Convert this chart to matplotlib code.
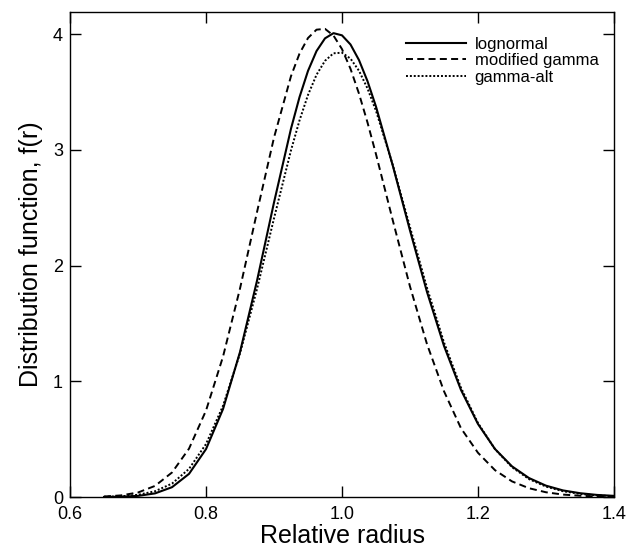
import matplotlib
matplotlib.use("Agg")
import matplotlib.pyplot as plt

plt.rcParams['font.family'] = ['Liberation Sans', 'DejaVu Sans']

radius = [0.650, 0.675, 0.700, 0.725, 0.750, 0.775, 0.800, 0.825, 0.850, 0.875,
          0.900, 0.925, 0.9375, 0.950, 0.9625, 0.975, 0.9875, 1.000, 1.0125, 1.025,
          1.0375, 1.050, 1.075, 1.100, 1.125, 1.150, 1.175, 1.200, 1.225, 1.250,
          1.275, 1.300, 1.325, 1.350, 1.375, 1.400]

lognormal = [0.0006, 0.0026, 0.0099, 0.0313, 0.0849, 0.200, 0.414, 0.760, 1.253, 1.869,
             2.545, 3.183, 3.455, 3.682, 3.853, 3.963, 4.008, 3.989, 3.910, 3.775,
             3.593, 3.373, 2.857, 2.303, 1.772, 1.306, 0.925, 0.631, 0.415, 0.265,
             0.164, 0.098, 0.057, 0.033, 0.018, 0.010]

modified_gamma = [0.004, 0.014, 0.039, 0.096, 0.212, 0.418, 0.747, 1.213, 1.802, 2.462,
                  3.106, 3.637, 3.831, 3.966, 4.038, 4.045, 3.987, 3.870, 3.700, 3.485,
                  3.236, 2.962, 2.383, 1.819, 1.321, 0.914, 0.594, 0.382, 0.232, 0.135,
                  0.076, 0.041, 0.021, 0.011, 0.005, 0.0025]

gamma_alt = [0.002, 0.0065, 0.019, 0.050, 0.116, 0.243, 0.458, 0.788, 1.241, 1.798,
             2.408, 2.996, 3.254, 3.474, 3.648, 3.769, 3.834, 3.839, 3.788, 3.683,
             3.530, 3.337, 2.863, 2.332, 1.808, 1.336, 0.944, 0.639, 0.414, 0.258,
             0.155, 0.090, 0.050, 0.027, 0.014, 0.007]

labels = ['lognormal', 'modified gamma', 'gamma-alt']
x_ticks = [0.6, 0.8, 1.0, 1.2, 1.4]
x_tick_labels = ['0.6', '0.8', '1.0', '1.2', '1.4']
y_ticks = [0, 1, 2, 3, 4]

fig = plt.figure(figsize=(6.31, 5.49), dpi=100)
ax = fig.add_axes([0.111, 0.0947, 0.862, 0.8833])

ax.plot(radius, lognormal, color='black', lw=1.5, ls='-', label=labels[0])
ax.plot(radius, modified_gamma, color='black', lw=1.4, ls=(0, (3.6, 2.2)), label=labels[1])
ax.plot(radius, gamma_alt, color='black', lw=1.4, ls=(0, (1.0, 1.0)), label=labels[2])

ax.set_xlim(0.6, 1.4)
ax.set_ylim(0, 4.19)
ax.set_xticks(x_ticks)
ax.set_xticklabels(x_tick_labels)
ax.set_yticks(y_ticks)

ax.tick_params(direction='in', top=True, right=True, length=8, width=1,
               labelsize=13)
ax.tick_params(axis='x', pad=6.5)
ax.tick_params(axis='y', pad=5)
for s in ax.spines.values():
    s.set_linewidth(1.0)

ax.set_xlabel('Relative radius', fontsize=18, labelpad=1)
ax.set_ylabel('Distribution function, f(r)', fontsize=18, labelpad=7)

ax.legend(loc='upper right', bbox_to_anchor=(0.99, 0.97), frameon=False, fontsize=12,
          handlelength=3.6, handletextpad=0.5, labelspacing=0.1, borderaxespad=0.2)

fig.savefig('out.png', dpi=100)
